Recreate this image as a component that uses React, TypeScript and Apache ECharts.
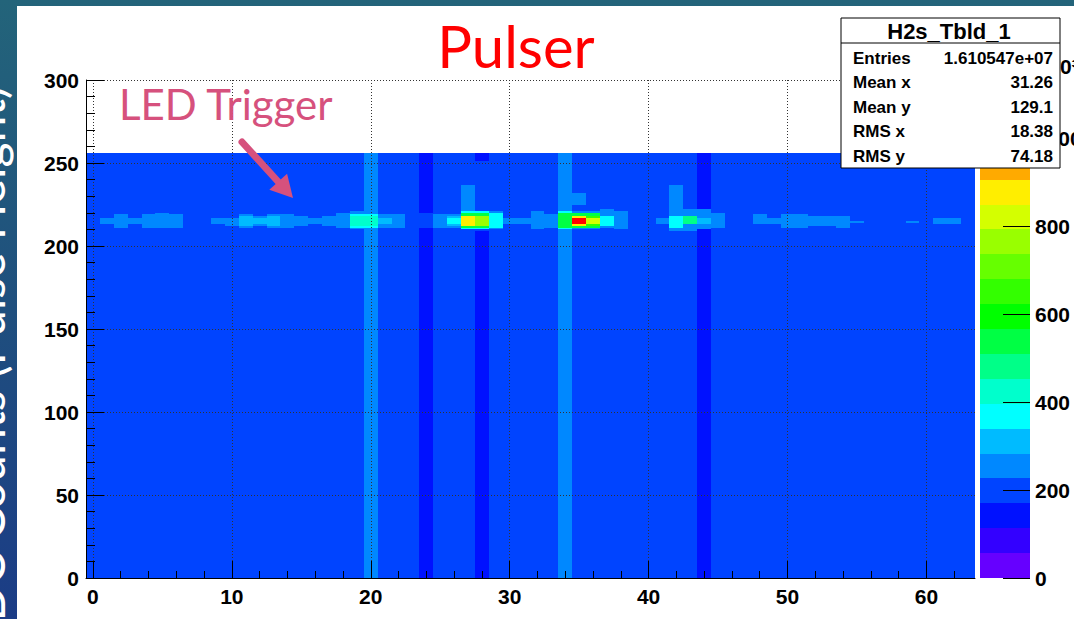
import React, { useEffect, useRef } from "react";
import * as echarts from "echarts";

// ---------- axes ----------
const X_MIN = -0.5;
const X_MAX = 63.5;
const Y_MIN = 0;
const Y_MAX = 300;
const Y_TICK_STEP = 50;
const N_TIME_BINS = 256;
const Z_MAX = 1132;
const Z_TICK_STEP = 200;
const X_MAJOR_TICKS = [0, 10, 20, 30, 40, 50, 60];
const X_MINOR_TICKS = [2, 4, 6, 8, 12, 14, 16, 18, 22, 24, 26, 28, 32, 34, 36, 38, 42, 44, 46, 48, 52, 54, 56, 58, 62];

// ROOT palette, 20 contour levels from 0 to Z_MAX
const PALETTE = [
  "#6600ff", "#3300ff", "#0011ff", "#0044ff", "#0088ff",
  "#00bbff", "#00ffff", "#00ffcc", "#00ff88", "#00ff44",
  "#00ff00", "#33ff00", "#66ff00", "#99ff00", "#d4ff00",
  "#ffee00", "#ffaa00", "#ff7700", "#ff4400", "#ff0000",
];

// ---------- data (x10^3 counts) ----------
// level of each channel over the whole time range
const CHANNEL_BASE = [
  200, 200, 200, 200, 200, 200, 200, 200,
  200, 200, 200, 200, 200, 200, 200, 200,
  200, 200, 200, 200, 255, 200, 200, 200,
  200, 200, 200, 200, 200, 200, 200, 200,
  200, 200, 255, 200, 200, 200, 200, 200,
  200, 200, 200, 200, 200, 200, 200, 200,
  200, 200, 200, 200, 200, 200, 200, 200,
  200, 200, 200, 200, 200, 200, 200, 200,
];

// low channels: [channel, timeFrom, timeTo, level]
const LOW_STRIPS = [
  [24, 0, 211, 140], [24, 220, 256, 140],
  [28, 0, 209, 140], [28, 251, 256, 140],
  [44, 0, 210, 140], [44, 222, 256, 140],
];

// LED trigger region: [channel, timeFrom, timeTo, level]
const LED_CELLS = [
  [1, 213, 217, 255], [2, 211, 219, 255], [3, 213, 217, 255], [4, 211, 219, 255],
  [5, 211, 220, 255], [6, 211, 219, 255],
  [9, 213, 217, 255], [10, 212, 217, 255],
  [11, 211, 219, 255], [11, 212, 218, 310],
  [12, 212, 218, 255], [12, 213, 217, 310],
  [13, 211, 219, 255], [13, 212, 218, 310],
  [14, 211, 219, 255], [15, 212, 218, 255], [16, 213, 217, 255], [17, 212, 218, 255],
  [18, 211, 220, 255],
  [19, 210, 221, 255], [19, 211, 219, 370], [19, 212, 218, 425],
  [20, 211, 219, 370], [20, 212, 218, 425],
  [21, 211, 219, 255], [21, 213, 217, 310],
  [22, 211, 219, 255],
  [25, 211, 219, 255],
  [26, 211, 219, 255], [26, 212, 218, 310], [26, 213, 217, 370],
  [27, 210, 237, 255], [27, 210, 221, 370], [27, 211, 220, 535], [27, 212, 218, 880],
  [28, 210, 221, 370], [28, 211, 220, 535], [28, 212, 218, 765],
  [29, 210, 221, 255], [29, 211, 220, 370],
  [30, 213, 217, 255], [31, 213, 217, 255], [32, 210, 221, 255], [33, 211, 219, 255],
  [34, 210, 221, 370], [34, 211, 220, 535],
  [35, 225, 232, 255], [35, 210, 221, 255], [35, 211, 220, 535], [35, 212, 218, 880], [35, 213, 217, 1120],
  [36, 210, 221, 255], [36, 211, 220, 535], [36, 212, 218, 650], [36, 213, 217, 820],
  [37, 211, 222, 255], [37, 212, 218, 370],
  [38, 210, 221, 255],
  [41, 213, 217, 255],
  [42, 209, 237, 255], [42, 211, 218, 370],
  [43, 209, 222, 255], [43, 213, 218, 480],
  [44, 210, 222, 255], [44, 213, 217, 310],
  [45, 211, 220, 255],
  [48, 213, 219, 255], [49, 213, 217, 255], [50, 211, 219, 255], [51, 211, 219, 255],
  [52, 212, 218, 255], [53, 212, 218, 255], [54, 211, 218, 255],
  [55, 214, 215, 255], [59, 214, 215, 255],
  [61, 213, 217, 255], [62, 213, 217, 255],
];

// ---------- stats box ----------
const STATS_TITLE = "H2s_Tbld_1";
const STATS_LABELS = ["Entries", "Mean x", "Mean y", "RMS x", "RMS y"];
const STATS_VALUES = ["1.610547e+07", "31.26", "129.1", "18.38", "74.18"];

const TITLE = "Pulser";
const ANNOTATION = "LED Trigger";
const SLIDE_AXIS_TEXT = "ADC Counts (Pulse Height)";

const AXIS_FONT = "Liberation Sans, Arial, sans-serif";
const SLIDE_FONT = "Lato, 'Open Sans', sans-serif";
const PINK = "#d6517d";

function levelColor(v: number) {
  const n = PALETTE.length;
  const band = Math.max(0, Math.min(n - 1, Math.floor(v / (Z_MAX / n))));
  return PALETTE[band];
}

export default function App() {
  const ref = useRef<HTMLDivElement>(null);

  useEffect(() => {
    if (!ref.current) return;
    const chart = echarts.init(ref.current, null, { renderer: "svg" });

    const cells = [
      ...CHANNEL_BASE.map((v, x) => [x, 0, N_TIME_BINS, v]),
      ...LOW_STRIPS,
      ...LED_CELLS,
    ];
    const n = PALETTE.length;
    const bands = PALETTE.map((c, i) => [(i * Z_MAX) / n, ((i + 1) * Z_MAX) / n, i]);

    const labelStyle = {
      fontFamily: AXIS_FONT,
      fontWeight: "bold" as const,
      fontSize: 21,
      color: "#000",
    };

    // arrow geometry
    const ax0 = 242, ay0 = 142, ax1 = 293, ay1 = 198;
    const len = Math.hypot(ax1 - ax0, ay1 - ay0);
    const ux = (ax1 - ax0) / len, uy = (ay1 - ay0) / len;
    const headL = 22, headW = 12;
    const bx = ax1 - ux * headL, by = ay1 - uy * headL;

    const BOX_W = 219;
    const statsChildren: any[] = [
      { type: "rect", shape: { x: 0, y: 0, width: BOX_W, height: 150 }, style: { fill: "#fff", stroke: "#000", lineWidth: 1 } },
      { type: "line", shape: { x1: 0, y1: 25, x2: BOX_W, y2: 25 }, style: { stroke: "#000", lineWidth: 1 } },
      {
        type: "text", x: 108, y: 13,
        style: { text: STATS_TITLE, fontFamily: AXIS_FONT, fontWeight: "bold", fontSize: 22, fill: "#000", align: "center", verticalAlign: "middle" },
      },
    ];
    STATS_LABELS.forEach((lab, i) => {
      statsChildren.push({
        type: "text", x: 12, y: 40 + i * 24.5,
        style: { text: lab, fontFamily: AXIS_FONT, fontWeight: "bold", fontSize: 17, fill: "#000", align: "left", verticalAlign: "middle" },
      });
      statsChildren.push({
        type: "text", x: 212, y: 40 + i * 24.5,
        style: { text: STATS_VALUES[i], fontFamily: AXIS_FONT, fontWeight: "bold", fontSize: 17, fill: "#000", align: "right", verticalAlign: "middle" },
      });
    });

    const option: any = {
      animation: false,
      backgroundColor: "transparent",
      tooltip: { show: false },
      grid: [
        { left: 86, top: 80, width: 889, height: 498, outerBoundsMode: "none", containLabel: false },
        { left: 980, top: 80, width: 50, height: 498, outerBoundsMode: "none", containLabel: false },
        { left: 1003, top: 80, width: 27, height: 498, outerBoundsMode: "none", containLabel: false },
      ],
      xAxis: [
        {
          gridIndex: 0, type: "value", min: X_MIN, max: X_MAX, position: "bottom", z: 5,
          axisLine: { show: true, onZero: false, lineStyle: { color: "#000", width: 1 } },
          axisTick: { show: true, inside: true, length: 17, customValues: X_MAJOR_TICKS, lineStyle: { color: "#000" } },
          axisLabel: { ...labelStyle, customValues: X_MAJOR_TICKS, margin: 8 },
          splitLine: { show: true, lineStyle: { color: "#333", type: [1, 2], width: 1 } },
        },
        {
          gridIndex: 0, type: "value", min: X_MIN, max: X_MAX, position: "bottom", z: 5,
          axisLine: { show: false },
          axisTick: { show: true, inside: true, length: 7, customValues: X_MINOR_TICKS, lineStyle: { color: "#000" } },
          axisLabel: { show: false },
          splitLine: { show: false },
        },
        { gridIndex: 1, type: "value", min: 0, max: 1, show: false },
        { gridIndex: 2, type: "value", min: 0, max: 1, show: false },
      ],
      yAxis: [
        {
          gridIndex: 0, type: "value", min: Y_MIN, max: Y_MAX, interval: Y_TICK_STEP, z: 5,
          axisLine: { show: true, onZero: false, lineStyle: { color: "#000", width: 1 } },
          axisTick: { show: true, inside: true, length: 18, lineStyle: { color: "#000" } },
          minorTick: { show: true, splitNumber: 5, length: 9, lineStyle: { color: "#000" } },
          axisLabel: { ...labelStyle, margin: 7 },
          splitLine: { show: true, lineStyle: { color: "#333", type: [1, 2], width: 1 } },
        },
        {
          gridIndex: 1, type: "value", min: 0, max: Z_MAX, interval: Z_TICK_STEP, position: "right", z: 5,
          axisLine: { show: false },
          axisTick: { show: false },
          axisLabel: { ...labelStyle, margin: 5, showMaxLabel: false, formatter: (v: number) => String(v) },
          splitLine: { show: false },
        },
        {
          // palette tick marks (drawn inside the colour bar, from its right edge)
          gridIndex: 2, type: "value", min: 0, max: Z_MAX, interval: Z_TICK_STEP, position: "right", z: 5,
          axisLine: { show: false },
          axisTick: { show: false },
          axisLabel: { show: false },
          splitLine: { show: true, lineStyle: { color: "#000", width: 1, type: "solid" } },
        },
      ],
      series: [
        {
          type: "custom",
          xAxisIndex: 0,
          yAxisIndex: 0,
          data: cells,
          clip: true,
          renderItem: (params: any, api: any) => {
            const x = api.value(0), y0 = api.value(1), y1 = api.value(2), v = api.value(3);
            const p0 = api.coord([x - 0.5, y0]);
            const p1 = api.coord([x + 0.5, y1]);
            const left = Math.round(p0[0]), right = Math.round(p1[0]);
            const bottom = Math.round(p0[1]), top = Math.round(p1[1]);
            return {
              type: "rect",
              shape: { x: left, y: top, width: right - left, height: bottom - top },
              style: { fill: levelColor(v) },
            };
          },
        },
        {
          type: "custom",
          xAxisIndex: 2,
          yAxisIndex: 1,
          data: bands,
          renderItem: (params: any, api: any) => {
            const lo = api.value(0), hi = api.value(1), i = api.value(2);
            const p0 = api.coord([0, lo]);
            const p1 = api.coord([1, hi]);
            const top = Math.round(p1[1]), bottom = Math.round(p0[1]);
            return {
              type: "rect",
              shape: { x: p0[0], y: top, width: p1[0] - p0[0], height: bottom - top },
              style: { fill: PALETTE[i] },
            };
          },
        },
      ],
      graphic: [
        {
          type: "rect", z: -100, silent: true,
          shape: { x: 0, y: 0, width: 1074, height: 619 },
          style: {
            fill: new echarts.graphic.LinearGradient(0, 0, 0, 1, [
              { offset: 0, color: "#23647a" },
              { offset: 0.5, color: "#1f4f7e" },
              { offset: 1, color: "#1b3c86" },
            ]),
          },
        },
        { type: "rect", z: -99, silent: true, shape: { x: 17, y: 6, width: 1057, height: 613 }, style: { fill: "#ffffff" } },
        {
          type: "text", z: -98, x: -14, y: 370, rotation: Math.PI / 2,
          style: { text: SLIDE_AXIS_TEXT, fill: "#ffffff", fontFamily: SLIDE_FONT, fontSize: 48, align: "center", verticalAlign: "middle" },
        },
        {
          type: "text", z: 50, x: 516, y: 45,
          style: { text: TITLE, fill: "#ff0000", fontFamily: SLIDE_FONT, fontSize: 58, align: "center", verticalAlign: "middle" },
        },
        {
          type: "text", z: 50, x: 119, y: 104,
          style: { text: ANNOTATION, fill: PINK, fontFamily: SLIDE_FONT, fontSize: 42, align: "left", verticalAlign: "middle" },
        },
        {
          type: "line", z: 50,
          shape: { x1: ax0, y1: ay0, x2: bx, y2: by },
          style: { stroke: PINK, lineWidth: 7, lineCap: "round" },
        },
        {
          type: "polygon", z: 50,
          shape: {
            points: [
              [ax1, ay1],
              [bx - uy * -headW, by + ux * -headW],
              [bx + uy * -headW, by - ux * -headW],
            ],
          },
          style: { fill: PINK },
        },
        {
          type: "text", z: 40, x: 1036, y: 66,
          style: { text: "×10³", fill: "#000", fontFamily: AXIS_FONT, fontWeight: "bold", fontSize: 21, align: "left", verticalAlign: "middle" },
        },
        { type: "group", z: 60, x: 841, y: 18, children: statsChildren.map((c) => ({ ...c, z: 60 })) },
      ],
    };

    chart.setOption(option);
    return () => chart.dispose();
  }, []);

  return (
    <div
      ref={ref}
      style={{ position: "absolute", left: 0, top: 0, width: 1074, height: 619 }}
    />
  );
}
